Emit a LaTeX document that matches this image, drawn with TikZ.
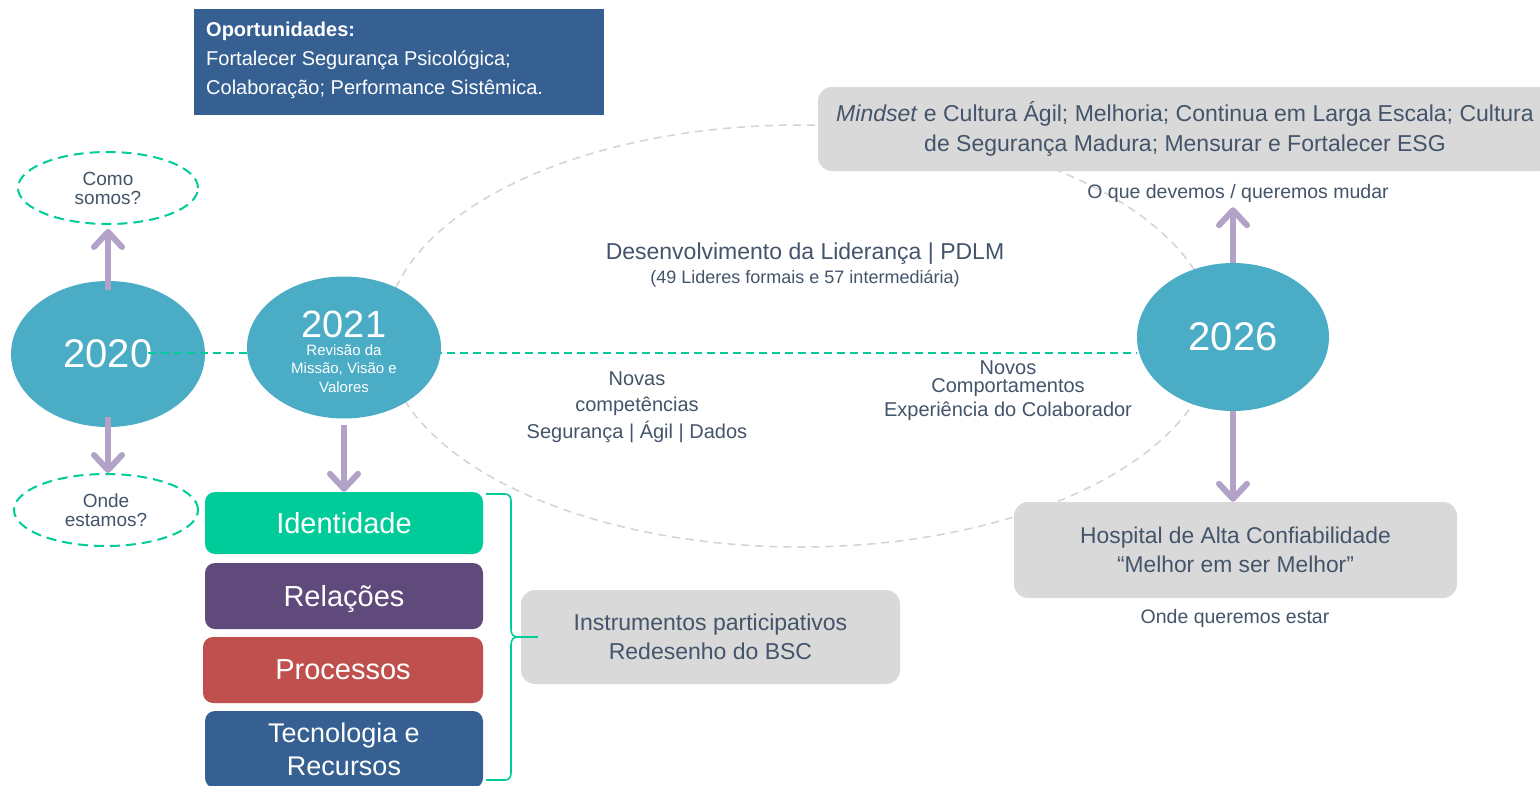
\documentclass[tikz,border=0pt]{standalone}
\usepackage{fontspec}
\setmainfont{Liberation Sans}
\usetikzlibrary{shapes.geometric,arrows.meta}
\definecolor{cTeal}{HTML}{4BACC6}
\definecolor{cGreen}{HTML}{00CC99}
\definecolor{cBlue}{HTML}{366092}
\definecolor{cPurpleD}{HTML}{604A7B}
\definecolor{cRed}{HTML}{C0504D}
\definecolor{cArrow}{HTML}{B3A2C7}
\definecolor{cGrey}{HTML}{D9D9D9}
\definecolor{cLGrey}{HTML}{D3D3D3}
\definecolor{cText}{HTML}{44546A}
\pgfdeclarelayer{bg}
\pgfdeclarelayer{mid}
\pgfsetlayers{bg,mid,main}
\tikzset{
  yearell/.style={ellipse, fill=cTeal, inner sep=0pt, text=white},
  qell/.style={ellipse, draw=cGreen, line width=2pt, dash pattern=on 10pt off 6pt, text=cText, align=center, inner sep=0pt, font=\fontsize{19}{19}\selectfont},
  arr/.style={draw=cArrow, line width=6pt, -{Straight Barb[length=15pt, width=28pt, line cap=round, line join=round]}},
  stackbox/.style={rounded corners=10pt, text=white, inner sep=0pt, minimum width=278pt, align=center},
  greybox/.style={fill=cGrey, rounded corners=14pt, text=cText, align=center, inner sep=0pt},
  lbl/.style={text=cText, align=center, inner sep=0pt},
  gline/.style={draw=cGreen, line width=1.5pt, dash pattern=on 8pt off 5pt},
  brc/.style={draw=cGreen, line width=1.6pt},
}
\begin{document}
\begin{tikzpicture}[x=1pt,y=-1pt]
\useasboundingbox (0,0) rectangle (1540,785);
\begin{pgfonlayer}{bg}
  \fill[white] (0,0) rectangle (1540,785);
  \node[ellipse, draw=cLGrey, line width=1.5pt, dash pattern=on 8pt off 6pt, minimum width=830pt, minimum height=422pt, inner sep=0pt] (big) at (800,336) {};
  \node[yearell, minimum width=194pt, minimum height=146pt, font=\fontsize{40}{40}\selectfont] (y2020) at (108,354) {2020};
\end{pgfonlayer}

% opportunities box
\node[fill=cBlue, minimum width=410pt, minimum height=106pt, inner sep=0pt] (opp) at (399,62) {};
\node[anchor=base west, text=white, align=left, inner sep=0pt, font=\fontsize{20}{29}\selectfont] (opptxt) at (206,94) {\textbf{Oportunidades:}\\Fortalecer Segurança Psicológica;\\Colaboração; Performance Sistêmica.};

% question ellipses
\node[qell, minimum width=180pt, minimum height=72pt] (como) at (108,188) {Como\\somos?};
\node[qell, minimum width=184pt, minimum height=72pt] (onde) at (106,510) {Onde\\estamos?};

% years
\node[yearell, minimum width=194pt, minimum height=142pt] (y2021) at (344,347.5) {};
\node[anchor=base, text=white, inner sep=0pt, font=\fontsize{38}{38}\selectfont] (t2021) at (344,337) {2021};
\node[anchor=base, text=white, inner sep=0pt, align=center, font=\fontsize{15}{18.5}\selectfont] (r2021) at (344,392) {Revisão da\\Missão, Visão e\\Valores};
\node[yearell, minimum width=192pt, minimum height=148pt, font=\fontsize{40}{40}\selectfont] (y2026) at (1233,337) {2026};

% goal box
\node[greybox, minimum width=734pt, minimum height=84pt, font=\fontsize{23}{30}\selectfont] (goal) at (1185,129) {\textit{Mindset} e Cultura Ágil; Melhoria; Continua em Larga Escala; Cultura\\de Segurança Madura; Mensurar e Fortalecer ESG};
\node[lbl, anchor=base, font=\fontsize{19.5}{20}\selectfont] (oque) at (1238,198) {O que devemos / queremos mudar};

% center labels
\node[lbl, anchor=base, font=\fontsize{23}{23}\selectfont] (dev1) at (805,259) {Desenvolvimento da Liderança | PDLM};
\node[lbl, anchor=base, font=\fontsize{18}{18}\selectfont] (dev2) at (805,283) {(49 Lideres formais e 57 intermediária)};
\node[lbl, anchor=base, font=\fontsize{20}{26.5}\selectfont] (novas) at (637,438) {Novas\\competências\\Segurança | Ágil | Dados};
\node[lbl, anchor=base, font=\fontsize{20}{21}\selectfont] (novos) at (1008,416) {Novos\\[-3pt]Comportamentos\\[3pt]Experiência do Colaborador};

% hospital
\node[greybox, minimum width=443pt, minimum height=96pt, font=\fontsize{22.8}{29}\selectfont] (hosp) at (1235.5,550) {Hospital de Alta Confiabilidade\\“Melhor em ser Melhor”};
\node[lbl, anchor=base, font=\fontsize{19.5}{20}\selectfont] (ondeq) at (1235,623) {Onde queremos estar};

% stack
\node[stackbox, fill=cGreen, minimum height=62pt, text depth=0pt, font=\fontsize{29}{29}\selectfont] (ident) at (344,523) {Identidade};
\node[stackbox, fill=cPurpleD, minimum height=66pt, text depth=0pt, font=\fontsize{29}{29}\selectfont] (rel) at (344,596) {Relações};
\node[stackbox, fill=cRed, minimum width=280pt, minimum height=66pt, text depth=0pt, font=\fontsize{29}{29}\selectfont] (proc) at (343,670) {Processos};
\node[stackbox, fill=cBlue, minimum height=77pt, font=\fontsize{27}{33}\selectfont] (tech) at (344,749.5) {Tecnologia e\\Recursos};

% instruments
\node[greybox, minimum width=379pt, minimum height=94pt, font=\fontsize{23}{29}\selectfont] (instr) at (710.5,637) {Instrumentos participativos\\Redesenho do BSC};

% green dashed timeline
\begin{pgfonlayer}{mid}
  \coordinate (g0) at (148,353);
  \draw[gline] (g0) -- (g0 -| y2026.west);
\end{pgfonlayer}

% arrows
\draw[arr] ([yshift=-9pt]y2020.north) -- ([yshift=-4pt]y2020.north |- como.south);
\draw[arr] ([yshift=10pt]y2020.south) -- (y2020.south |- onde.north);
\draw[arr] ([yshift=-6pt]y2021.south) -- (ident.north);
\draw[arr] (y2026.north) -- ([yshift=-5pt]y2026.north |- oque.south);
\draw[arr] (y2026.south) -- (y2026.south |- hosp.north);

% brace
\coordinate (bT) at (486,494);
\coordinate (bB) at (486,780);
\coordinate (bM) at ([xshift=17pt]instr.west);
\draw[brc] (bT) -- (505,494) .. controls (509,494) and (511,497) .. (511,501) -- (511,629) .. controls (511,634) and (513,637) .. (518,637) -- (bM);
\draw[brc] (bM) -- (518,637) .. controls (513,637) and (511,640) .. (511,645) -- (511,773) .. controls (511,777) and (509,780) .. (505,780) -- (bB);
\end{tikzpicture}
\end{document}
